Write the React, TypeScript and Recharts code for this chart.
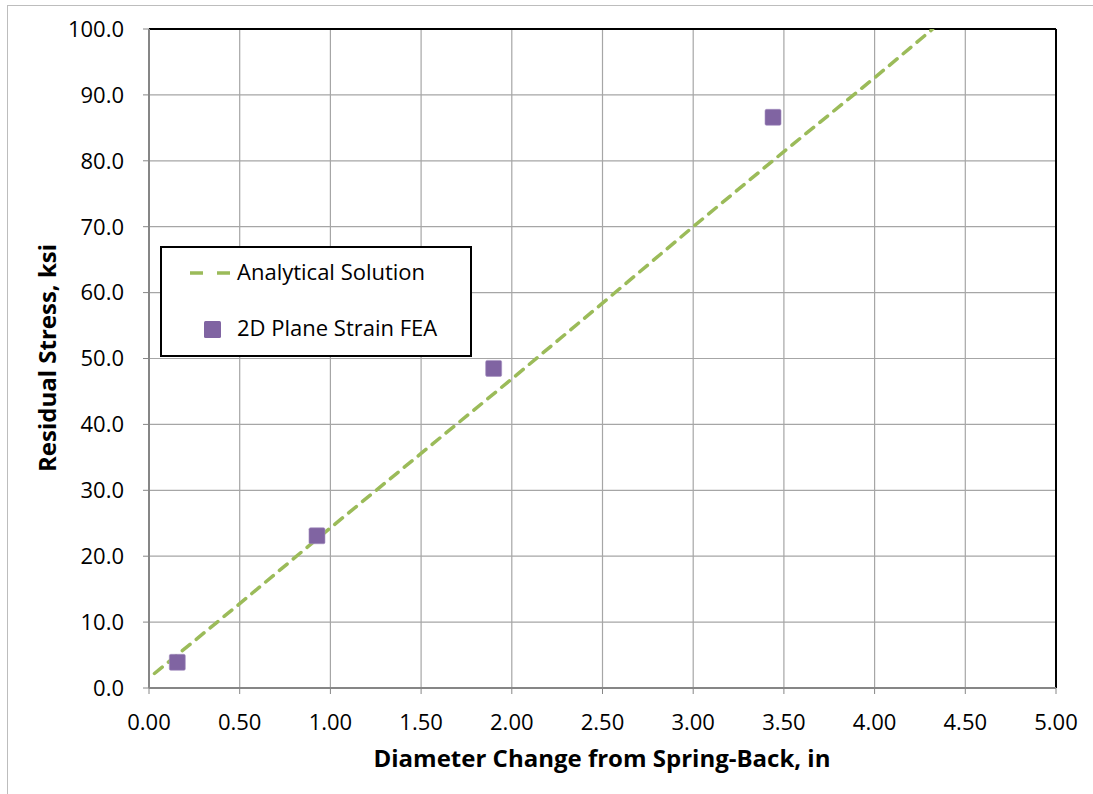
import { ComposedChart, Line, Scatter, XAxis, YAxis, CartesianGrid, ReferenceLine } from 'recharts';

// analytical solution curve
const analyticalX = [0.03, 0.5, 1.0, 1.5, 2.0, 2.5, 3.0, 3.5, 4.0, 4.32];
const analyticalY = [2.2, 12.8, 24.3, 35.6, 46.9, 58.4, 70.0, 81.4, 92.6, 100.0];

// FEA results
const feaX = [0.156, 0.926, 1.9, 3.44];
const feaY = [3.9, 23.1, 48.5, 86.6];

const xTicks = [0, 0.5, 1, 1.5, 2, 2.5, 3, 3.5, 4, 4.5, 5];
const yTicks = [0, 10, 20, 30, 40, 50, 60, 70, 80, 90, 100];

const seriesNames = ['Analytical Solution', '2D Plane Strain FEA'];
const xTitle = 'Diameter Change from Spring-Back, in';
const yTitle = 'Residual Stress, ksi';

const analyticalData = analyticalX.map((x, i) => ({ x, y: analyticalY[i] }));
const feaData = feaX.map((x, i) => ({ x, y: feaY[i] }));

const FONT = '"Open Sans", sans-serif';
const GREEN = '#9BBB59';
const PURPLE = '#8064A2';

const Square = (props: any) => {
  const { cx, cy } = props;
  if (cx == null || cy == null) return <g />;
  return <rect x={cx - 8} y={cy - 8} width={16} height={16} rx={1.5} fill={PURPLE} stroke="#a48fc0" strokeWidth={0.6} />;
};

// legend drawn as a floating box over the plot, like the Excel original
const LegendBox = () => (
  <svg width={312} height={111} style={{ position: 'absolute', left: 160, top: 246, display: 'block' }}>
    <rect x={1} y={1} width={310} height={109} fill="#fff" stroke="#000" strokeWidth={2} />
    <line x1={30} y1={27} x2={70} y2={27} stroke={GREEN} strokeWidth={3.5} strokeDasharray="13 14" />
    <text x={77} y={34} fontFamily={FONT} fontSize={22} fill="#000">{seriesNames[0]}</text>
    <rect x={44} y={75} width={17} height={17} rx={1.5} fill={PURPLE} />
    <text x={77} y={90} fontFamily={FONT} fontSize={22} fill="#000">{seriesNames[1]}</text>
  </svg>
);

export default function App() {
  return (
    <div style={{ position: 'absolute', left: 0, top: 0, width: 1093, height: 794, background: '#fff', overflow: 'hidden' }}>
      <div style={{ position: 'absolute', left: 7, top: 5, width: 1100, height: 800, border: '1.5px solid #bdbdbd' }} />
      <ComposedChart
        width={1093}
        height={794}
        margin={{ top: 29, right: 37, left: 69, bottom: 36 }}
        style={{ position: 'absolute', left: 0, top: 0 }}
      >
        <CartesianGrid stroke="#a6a6a6" strokeWidth={1.2} />
        <XAxis
          type="number"
          dataKey="x"
          domain={[0, 5]}
          ticks={xTicks}
          interval={0}
          allowDataOverflow
          height={70}
          tickSize={6}
          tickMargin={20}
          tickFormatter={(v: number) => v.toFixed(2)}
          tick={{ fill: '#000', fontSize: 22, fontFamily: FONT }}
          axisLine={{ stroke: '#868686', strokeWidth: 2 }}
          tickLine={{ stroke: '#868686' }}
          label={{
            content: () => (
              <text x={602} y={767} textAnchor="middle" fontFamily={FONT} fontSize={24} fontWeight="bold" fill="#000">
                {xTitle}
              </text>
            ),
          }}
        />
        <YAxis
          type="number"
          dataKey="y"
          domain={[0, 100]}
          ticks={yTicks}
          interval={0}
          allowDataOverflow
          width={80}
          tickSize={6}
          tickMargin={19}
          tickFormatter={(v: number) => v.toFixed(1)}
          tick={{ fill: '#000', fontSize: 22, fontFamily: FONT }}
          axisLine={{ stroke: '#868686', strokeWidth: 2 }}
          tickLine={{ stroke: '#868686' }}
          label={{
            content: () => (
              <text
                x={46}
                y={358}
                transform="rotate(-90 46 358)"
                textAnchor="middle"
                dominantBaseline="central"
                fontFamily={FONT}
                fontSize={24}
                fontWeight="bold"
                fill="#000"
              >
                {yTitle}
              </text>
            ),
          }}
        />
        <ReferenceLine y={100} stroke="#000" strokeWidth={2} />
        <ReferenceLine x={5} stroke="#000" strokeWidth={2} />
        <Line
          data={analyticalData}
          dataKey="y"
          name={seriesNames[0]}
          type="linear"
          stroke={GREEN}
          strokeWidth={3.5}
          strokeDasharray="10 8"
          strokeLinecap="round"
          dot={false}
          activeDot={false}
          isAnimationActive={false}
        />
        <Scatter
          data={feaData}
          dataKey="y"
          name={seriesNames[1]}
          fill={PURPLE}
          shape={Square}
          isAnimationActive={false}
        />
      </ComposedChart>
      <LegendBox />
    </div>
  );
}
